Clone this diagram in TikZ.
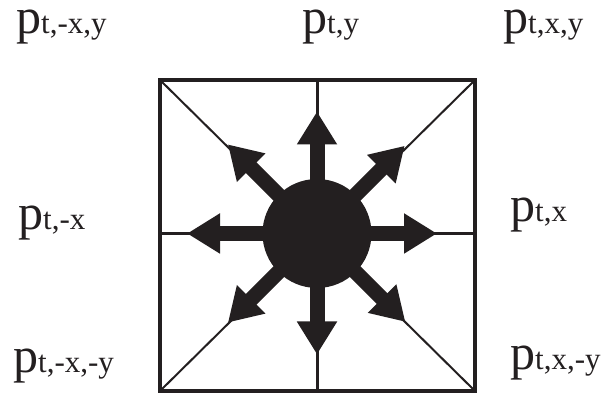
\documentclass[tikz,border=0pt]{standalone}
\usepackage{fontspec}
\setmainfont{Liberation Serif}
\usetikzlibrary{arrows.meta}
\definecolor{ink}{RGB}{35,31,32}
\newcommand{\plab}[1]{{\fontsize{50}{50}\selectfont p}{\fontsize{31}{31}\selectfont #1}}

\begin{document}
\begin{tikzpicture}[x=1pt,y=1pt,
  lab/.style={anchor=base west,inner sep=0pt,text=ink},
  ray/.style={ink,line width=15pt,-{Triangle[width=38pt,length=33pt]}}]
\useasboundingbox (0,0) rectangle (608,398);
\coordinate (sw) at (160,7);
\coordinate (ne) at (475,318);
\coordinate (se) at (475,7);
\coordinate (nw) at (160,318);
\coordinate (c) at (317,164.5);
\draw[ink,line width=2pt] (sw)--(ne) (nw)--(se);
\draw[ink,line width=3pt] (sw -| c)--(nw -| c) (sw |- c)--(se |- c);
\draw[ink,line width=3.5pt] (sw) rectangle (ne);
\node[circle,fill=ink,minimum size=109pt,inner sep=0pt] (hub) at (c) {};
\foreach \a/\r in {0/120,45/124,90/122,135/126,180/130,225/126,270/121,315/125}{
  \coordinate (tip\a) at ([shift={(\a:\r)}]c);
  \draw[ray] (hub.center) -- (tip\a);
}
\node[lab] (lblNW) at (16,364) {\plab{t,-x,y}};
\node[lab] (lblN) at (302,364) {\plab{t,y}};
\node[lab] (lblNE) at (503,364) {\plab{t,x,y}};
\node[lab] (lblW) at (18,168) {\plab{t,-x}};
\node[lab] (lblE) at (510,176) {\plab{t,x}};
\node[lab] (lblSW) at (13,25) {\plab{t,-x,-y}};
\node[lab] (lblSE) at (510,28) {\plab{t,x,-y}};
\end{tikzpicture}
\end{document}
